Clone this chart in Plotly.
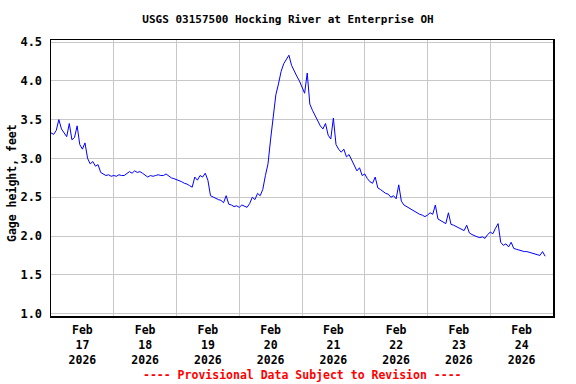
import pandas as pd
import plotly.graph_objects as go

# Hourly gage height readings (feet)
feb17 = [3.33, 3.31, 3.36, 3.50, 3.38, 3.33, 3.28, 3.45, 3.24, 3.27, 3.42, 3.18,
         3.12, 3.20, 3.00, 2.93, 2.96, 2.90, 2.92, 2.82, 2.80, 2.78, 2.79, 2.77]
feb18 = [2.78, 2.77, 2.79, 2.78, 2.78, 2.80, 2.83, 2.81, 2.84, 2.82, 2.83, 2.81,
         2.78, 2.76, 2.78, 2.77, 2.78, 2.79, 2.78, 2.78, 2.80, 2.77, 2.75, 2.74]
feb19 = [2.73, 2.72, 2.70, 2.68, 2.67, 2.65, 2.63, 2.76, 2.72, 2.78, 2.76, 2.81,
         2.72, 2.52, 2.50, 2.48, 2.47, 2.46, 2.43, 2.52, 2.41, 2.40, 2.38, 2.39]
feb20 = [2.37, 2.40, 2.38, 2.37, 2.42, 2.50, 2.47, 2.55, 2.52, 2.60, 2.78, 2.93,
         3.25, 3.58, 3.82, 3.96, 4.12, 4.22, 4.28, 4.33, 4.20, 4.12, 4.06, 4.00]
feb21 = [3.92, 3.84, 4.10, 3.70, 3.62, 3.56, 3.48, 3.42, 3.38, 3.45, 3.30, 3.25,
         3.52, 3.18, 3.12, 3.08, 3.12, 3.02, 3.05, 2.98, 2.92, 2.84, 2.88, 2.78]
feb22 = [2.80, 2.74, 2.70, 2.68, 2.76, 2.62, 2.60, 2.57, 2.55, 2.54, 2.50, 2.52,
         2.48, 2.66, 2.45, 2.40, 2.38, 2.35, 2.34, 2.32, 2.30, 2.28, 2.27, 2.25]
feb23 = [2.27, 2.30, 2.28, 2.40, 2.22, 2.20, 2.18, 2.16, 2.30, 2.15, 2.14, 2.12,
         2.10, 2.09, 2.07, 2.14, 2.04, 2.02, 2.00, 1.99, 1.98, 1.99, 1.97, 2.02]
feb24 = [2.05, 2.03, 2.10, 2.16, 1.92, 1.88, 1.90, 1.86, 1.92, 1.84, 1.83, 1.82,
         1.81, 1.80, 1.80, 1.79, 1.78, 1.77, 1.76, 1.75, 1.80, 1.74]

gage = feb17 + feb18 + feb19 + feb20 + feb21 + feb22 + feb23 + feb24
times = pd.date_range("2026-02-17 00:00", periods=len(gage), freq="h")

tick_days = ["17", "18", "19", "20", "21", "22", "23", "24"]
tick_pos = [f"2026-02-{d} 12:00" for d in tick_days]
tick_text = [f"Feb<br>{d}<br>2026" for d in tick_days]

y_ticks = [1.0, 1.5, 2.0, 2.5, 3.0, 3.5, 4.0, 4.5]
y_text = [f"{v:.1f}" for v in y_ticks]

FONT = "DejaVu Sans Mono"
GRID = "#c8c8c8"
PLOT_H = 276

fig = go.Figure(go.Scatter(x=times, y=gage, mode="lines",
                           line=dict(color="#0000ff", width=1), hoverinfo="skip"))

fig.update_layout(
    width=576, height=384,
    margin=dict(l=51, r=23, t=40, b=68, autoexpand=False),
    paper_bgcolor="white", plot_bgcolor="white",
    showlegend=False,
    font=dict(family=FONT, size=11, color="black", weight="bold"),
    title=dict(text="USGS 03157500 Hocking River at Enterprise OH",
               x=0.5, xref="container", y=1 - 19 / 384, yref="container",
               yanchor="middle",
               font=dict(family=FONT, size=11, color="black", weight="bold")),
    xaxis=dict(
        type="date", automargin=False,
        range=["2026-02-17 00:00", "2026-02-25 00:00"],
        tickmode="array", tickvals=tick_pos, ticktext=tick_text,
        showgrid=False, ticks="", ticklen=0,
        tickfont=dict(family=FONT, size=11.5, color="black", weight="bold"),
        ticklabelstandoff=3,
        minor=dict(dtick=86400000, tick0="2026-02-17", showgrid=True,
                   gridcolor=GRID, gridwidth=1, ticks=""),
        showline=True, linecolor="black", linewidth=1.5, mirror=True,
        zeroline=False,
    ),
    yaxis=dict(
        automargin=False,
        range=[0.97, 4.526],
        tickmode="array", tickvals=y_ticks, ticktext=y_text,
        showgrid=True, gridcolor=GRID, gridwidth=1,
        ticks="", ticklabelstandoff=5,
        tickfont=dict(family=FONT, size=12, color="black", weight="bold"),
        showline=True, linecolor="black", linewidth=1.5, mirror=True,
        zeroline=False,
    ),
    annotations=[
        dict(text="---- Provisional Data Subject to Revision ----",
             xref="paper", yref="paper", x=0.5, y=(316 - 375) / PLOT_H,
             xanchor="center", yanchor="middle", showarrow=False,
             font=dict(family=FONT, size=11.5, color="red", weight="bold")),
        dict(text="Gage height, feet", textangle=-90,
             xref="paper", yref="paper", x=(12 - 51) / 502, y=(316 - 183) / PLOT_H,
             xanchor="center", yanchor="middle", showarrow=False,
             font=dict(family=FONT, size=11.5, color="black", weight="bold")),
    ],
)

fig.write_html("out.html",
               config={"displayModeBar": False, "staticPlot": True},
               post_script="document.body.style.margin='0';"
                           "document.body.style.padding='0';"
                           "document.documentElement.style.overflow='hidden';")
